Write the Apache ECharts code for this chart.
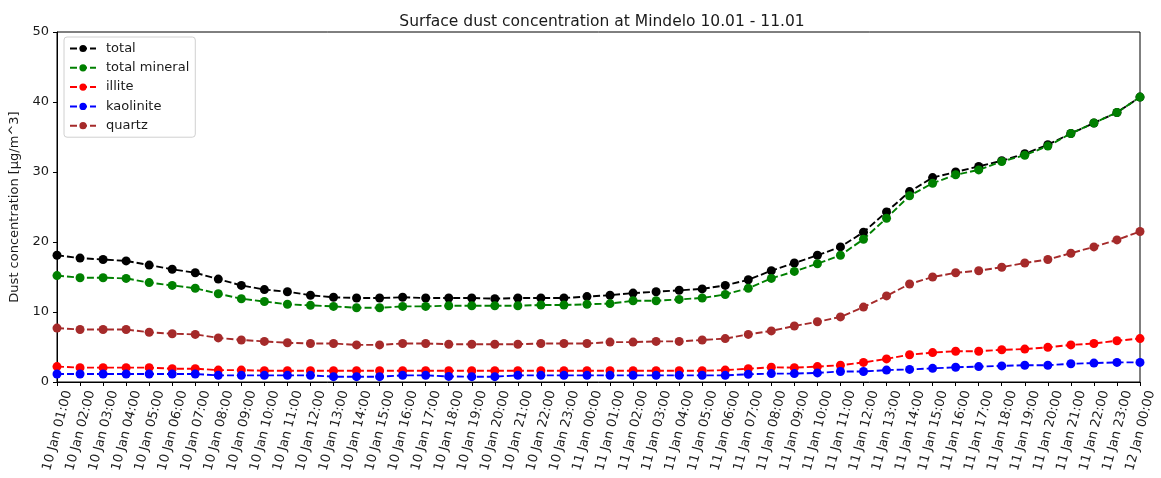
<!DOCTYPE html>
<html><head><meta charset="utf-8">
<script src="https://cdn.jsdelivr.net/npm/echarts@6/dist/echarts.min.js"></script>
<style>html,body{margin:0;padding:0;background:#fff}#c{width:1161px;height:478px}</style>
</head><body><div id="c"></div>
<script>
const categories = [
"10 Jan 01:00","10 Jan 02:00","10 Jan 03:00","10 Jan 04:00","10 Jan 05:00","10 Jan 06:00","10 Jan 07:00","10 Jan 08:00",
"10 Jan 09:00","10 Jan 10:00","10 Jan 11:00","10 Jan 12:00","10 Jan 13:00","10 Jan 14:00","10 Jan 15:00","10 Jan 16:00",
"10 Jan 17:00","10 Jan 18:00","10 Jan 19:00","10 Jan 20:00","10 Jan 21:00","10 Jan 22:00","10 Jan 23:00","11 Jan 00:00",
"11 Jan 01:00","11 Jan 02:00","11 Jan 03:00","11 Jan 04:00","11 Jan 05:00","11 Jan 06:00","11 Jan 07:00","11 Jan 08:00",
"11 Jan 09:00","11 Jan 10:00","11 Jan 11:00","11 Jan 12:00","11 Jan 13:00","11 Jan 14:00","11 Jan 15:00","11 Jan 16:00",
"11 Jan 17:00","11 Jan 18:00","11 Jan 19:00","11 Jan 20:00","11 Jan 21:00","11 Jan 22:00","11 Jan 23:00","12 Jan 00:00"];
const total = [18.1,17.7,17.5,17.3,16.7,16.1,15.6,14.7,13.8,13.2,12.9,12.4,12.1,12.0,12.0,12.1,12.0,12.0,
12.0,11.9,12.0,12.0,12.0,12.2,12.4,12.7,12.9,13.1,13.3,13.8,14.6,15.9,
17.0,18.1,19.3,21.4,24.3,27.2,29.2,30.0,30.8,31.6,32.6,33.9,35.5,37.0,38.5,40.7];
const totalMineral = [15.2,14.9,14.9,14.8,14.2,13.8,13.4,12.6,11.9,11.5,11.1,10.95,10.8,10.6,10.6,10.8,10.8,10.9,
10.9,10.9,10.9,11.0,11.0,11.1,11.2,11.6,11.6,11.8,12.0,12.5,13.4,14.8,
15.8,16.9,18.1,20.4,23.4,26.6,28.4,29.6,30.3,31.5,32.4,33.7,35.5,37.0,38.5,40.7];
const illite = [2.2,2.05,2.05,2.05,2.05,1.9,1.9,1.7,1.7,1.6,1.6,1.6,1.6,1.6,1.6,1.6,1.6,1.6,
1.6,1.6,1.6,1.6,1.6,1.6,1.6,1.6,1.6,1.6,1.6,1.7,1.9,2.1,
2.05,2.2,2.4,2.8,3.3,3.9,4.2,4.4,4.4,4.6,4.7,4.95,5.3,5.5,5.9,6.2];
const kaolinite = [1.14,1.14,1.14,1.14,1.14,1.14,1.14,0.95,0.95,0.95,0.95,0.95,0.76,0.76,0.76,0.95,0.95,0.8,
0.76,0.76,0.95,0.95,0.95,0.95,0.95,0.95,0.95,0.95,0.95,0.95,1.1,1.2,
1.2,1.3,1.5,1.5,1.7,1.8,1.95,2.1,2.2,2.3,2.4,2.4,2.6,2.7,2.8,2.8];
const quartz = [7.7,7.5,7.5,7.5,7.1,6.9,6.8,6.3,6.0,5.8,5.6,5.5,5.5,5.3,5.3,5.5,5.5,5.4,
5.4,5.4,5.4,5.5,5.5,5.5,5.7,5.7,5.8,5.8,6.0,6.2,6.8,7.3,
8.0,8.6,9.3,10.7,12.3,14.0,15.0,15.6,15.9,16.4,17.0,17.5,18.4,19.3,20.3,21.5];
const yTicks = [0,10,20,30,40,50];

const seriesDefs = [
  ["total", total, "#000000"],
  ["total mineral", totalMineral, "#008000"],
  ["illite", illite, "#ff0000"],
  ["kaolinite", kaolinite, "#0000ff"],
  ["quartz", quartz, "#a52a2a"]
];
const font = "DejaVu Sans";
const chart = echarts.init(document.getElementById('c'));
chart.setOption({
  animation: false,
  backgroundColor: '#fff',
  title: { text: 'Surface dust concentration at Mindelo 10.01 - 11.01', left: 597, top: 9, textAlign: 'center',
    textStyle: { fontFamily: font, fontSize: 15.5, fontWeight: 'normal', color: '#1a1a1a' } },
  grid: { left: 57, right: 21, top: 32, bottom: 96, show: true, borderColor: '#000', borderWidth: 1 },
  legend: {
    orient: 'vertical', left: 64, top: 37, itemWidth: 26, itemHeight: 9, itemGap: 6.3,
    padding: [5, 6, 5, 5],
    borderColor: '#d0d0d0', borderWidth: 1, borderRadius: 3,
    textStyle: { fontFamily: font, fontSize: 13, color: '#1a1a1a', padding: [0, 0, 0, 5] },
    data: seriesDefs.map(d => d[0])
  },
  xAxis: {
    type: 'category', data: categories, boundaryGap: false,
    axisLine: { lineStyle: { color: '#000' } },
    axisTick: { show: true, length: 4, alignWithLabel: true, lineStyle: { color: '#000' } },
    axisLabel: { interval: 0, rotate: 75, verticalAlign: 'top', padding: [5, 0, 0, 0],
      fontFamily: font, fontSize: 13, color: '#1a1a1a', margin: 6 },
    splitLine: { show: false }
  },
  yAxis: {
    type: 'value', min: yTicks[0], max: yTicks[yTicks.length - 1], interval: 10,
    name: 'Dust concentration [µg/m^3]', nameLocation: 'middle', nameGap: 33,
    nameTextStyle: { fontFamily: font, fontSize: 13, color: '#1a1a1a' },
    axisLine: { show: true, lineStyle: { color: '#000' } },
    axisTick: { show: true, length: 4, lineStyle: { color: '#000' } },
    axisLabel: { fontFamily: font, fontSize: 13, color: '#1a1a1a', margin: 8 },
    splitLine: { show: false }
  },
  series: seriesDefs.map(d => ({
    name: d[0], type: 'line', data: d[1], color: d[2],
    symbol: 'circle', symbolSize: 9, showSymbol: true,
    itemStyle: { color: d[2] },
    lineStyle: { color: d[2], width: 1.9, type: [7, 3] }
  }))
});
</script></body></html>
